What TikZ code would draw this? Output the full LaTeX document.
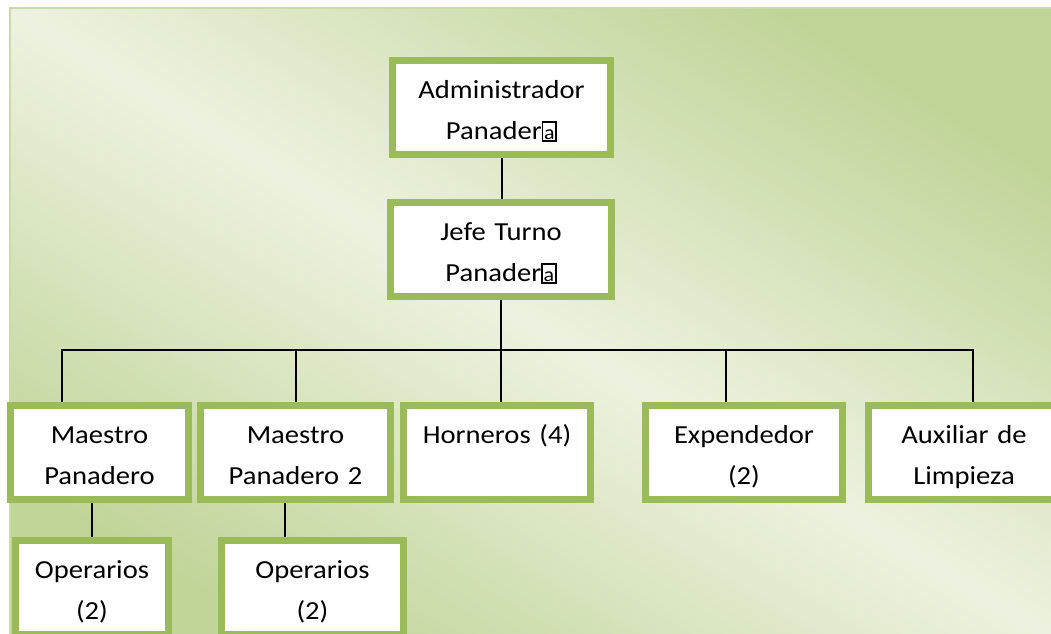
\documentclass[tikz,border=0pt]{standalone}
\usepackage{fontspec}
\setmainfont{Carlito}[FakeStretch=1.1]
\usetikzlibrary{positioning, backgrounds}
\definecolor{boxgreen}{HTML}{9BBB59}
\definecolor{pagegreen}{HTML}{C0D497}
\definecolor{pagelight}{HTML}{EDF2E0}
\definecolor{pageedge}{HTML}{C9DBA6}
\newcommand{\tofu}{{\setlength{\fboxsep}{0pt}\setlength{\fboxrule}{1.2pt}\fbox{\rule{0pt}{13pt}\makebox[9pt]{\fontsize{15}{15}\selectfont a}}}}

\begin{document}
\begin{tikzpicture}[x=0.75pt, y=-0.75pt,
    box/.style={/utils/exec={\pgfmathsetlengthmacro\boxw{#1*0.75pt}},
      draw=boxgreen, line width=5.25pt, fill=white, inner sep=0pt, outer sep=0pt,
      text width=\boxw, minimum width=\boxw, minimum height=70.5pt,
      text height=28.875pt, text depth=41.625pt, align=center,
      font=\fontsize{19.5}{30.75}\selectfont},
    link/.style={draw=black, line width=1.5pt}]
  \useasboundingbox (0,0) rectangle (1051,634);

  \node[box=218] (admin) at (501.5,107.5) {Administrador\\ Panader\tofu};
  \node[box=221] (jefe) at (501,249.5) {Jefe Turno\\ Panader\tofu};

  \node[box=178] (mp1) at (99.5,452.5) {Maestro\\ Panadero};
  \node[box=190] (mp2) at (295.5,452.5) {Maestro\\ Panadero 2};
  \node[box=187] (hor) at (497,452.5) {Horneros (4)};
  \node[box=197] (exp) at (744,452.5) {Expendedor\\ (2)};
  \node[box=191] (aux) at (964,452.5) {Auxiliar de\\ Limpieza};

  \node[box=153] (op1) at (92,587.5) {Operarios\\ (2)};
  \node[box=182] (op2) at (312.5,587.5) {Operarios\\ (2)};

  % text is cut a little above the inner bottom edge
  \foreach \n in {mp1,mp2,hor,exp,aux}
    \fill[white] ([shift={(3.5,-10)}]\n.south west) rectangle ([shift={(-3.5,-3.5)}]\n.south east);

  \coordinate (bar) at (500,350);

  \begin{scope}[on background layer]
    \fill[top color=pagegreen, bottom color=pagegreen!90!pageedge, middle color=pagelight,
      shading angle=-31] (10,8) rectangle (1070,650);
    \draw[pageedge, line width=1.5pt] (10,8) rectangle (1070,650);

    \draw[link] (admin.south) -- (admin.south |- jefe.north);
    \draw[link] (jefe.south) -- (jefe.south |- hor.north);
    \draw[link] ([shift={(-37.5,0)}]mp1.north) |- (bar) -| ([shift={(9,0)}]aux.north);
    \draw[link] (mp2.north) -- (mp2.north |- bar);
    \draw[link] ([shift={(-18,0)}]exp.north) -- ([shift={(-18,0)}]exp.north |- bar);
    \draw[link] (op1.north) -- (op1.north |- mp1.south);
    \draw[link] ([shift={(-27.5,0)}]op2.north) -- ([shift={(-27.5,0)}]op2.north |- mp2.south);
  \end{scope}
\end{tikzpicture}
\end{document}
